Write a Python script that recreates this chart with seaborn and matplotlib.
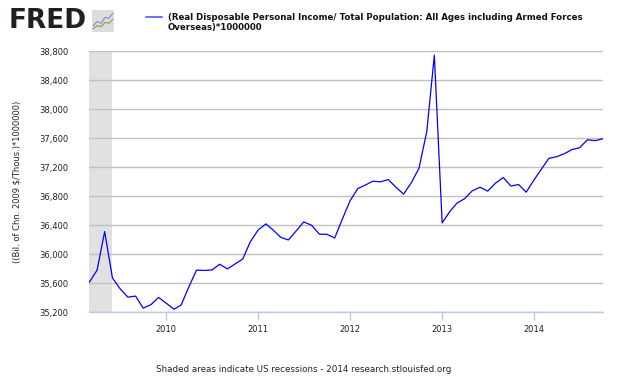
import matplotlib
matplotlib.use("Agg")
import matplotlib.pyplot as plt
import matplotlib.ticker as mticker
from matplotlib.lines import Line2D
import seaborn as sns
import pandas as pd

# ---- data ----
start_month = "2009-03-01"
values = [
    35614, 35781, 36312, 35673, 35526, 35409, 35423, 35257, 35305, 35405,
    35324, 35243, 35301, 35553, 35781, 35777, 35783, 35862, 35797, 35866,
    35935, 36174, 36335, 36418, 36335, 36232, 36197, 36321, 36445, 36400,
    36276, 36275, 36223, 36480, 36735, 36905, 36952, 37007, 36997, 37029,
    36924, 36828, 36988, 37185, 37690, 38742, 36432, 36590, 36705, 36767,
    36875, 36923, 36870, 36979, 37057, 36940, 36960, 36855, 37023, 37180,
    37321, 37344, 37384, 37443, 37466, 37576, 37565, 37590,
]
recession_start = "2009-03-01"
recession_end = "2009-06-01"
y_ticks = [35200, 35600, 36000, 36400, 36800, 37200, 37600, 38000, 38400, 38800]
year_ticks = ["2010", "2011", "2012", "2013", "2014"]
series_label = ("(Real Disposable Personal Income/ Total Population: All Ages including Armed Forces\n"
                "Overseas)*1000000")
y_label = "((Bil. of Chn. 2009 $/Thous.)*1000000)"
footer = "Shaded areas indicate US recessions - 2014 research.stlouisfed.org"

dates = pd.date_range(start_month, periods=len(values), freq="MS")
df = pd.DataFrame({"date": dates, "value": values})

sns.set_theme(style="white")
plt.rcParams["font.family"] = ["DejaVu Sans"]

fig = plt.figure(figsize=(6.3, 3.78), dpi=100)
ax = fig.add_axes([89.3 / 630, 1 - 312.3 / 378, (602.7 - 89.3) / 630, (312.3 - 51) / 378])

ax.axvspan(pd.Timestamp(recession_start), pd.Timestamp(recession_end),
           color="#e1e1e1", lw=0, zorder=0)
sns.lineplot(data=df, x="date", y="value", ax=ax, color="#0000ff", lw=0.9, zorder=3)

ax.set_xlim(dates[0], dates[-1])
ax.set_ylim(y_ticks[0], y_ticks[-1])
ax.set_yticks(y_ticks)
ax.yaxis.set_major_formatter(mticker.FuncFormatter(lambda v, p: f"{int(v):,}"))
ax.set_xticks([pd.Timestamp(f"{y}-01-01") for y in year_ticks])
ax.set_xticklabels(year_ticks)
ax.grid(axis="y", color="#c0c0c0", lw=1)
ax.grid(axis="x", visible=False)
ax.set_axisbelow(True)
for s in ["left", "right", "top"]:
    ax.spines[s].set_visible(False)
ax.spines["bottom"].set_color("#b8cce4")
ax.spines["bottom"].set_linewidth(1)
ax.tick_params(axis="y", length=0, pad=15, labelsize=6, labelcolor="#222222")
ax.tick_params(axis="x", length=5.8, width=1, color="#b8cce4", direction="out",
               pad=3.5, labelsize=6, labelcolor="#222222", bottom=True)
ax.set_xlabel("")
ax.set_ylabel("")
ax.set_facecolor("white")

fig.text(17.5 / 630, 1 - 182 / 378, y_label, rotation=90, ha="center", va="center",
         fontsize=6, color="#222222")
fig.text(304 / 630, 1 - 369 / 378, footer, ha="center", va="center",
         fontsize=6.3, color="#222222")

# legend
fig.add_artist(Line2D([146 / 630, 162 / 630], [1 - 17.3 / 378, 1 - 17.3 / 378],
                      color="#6f6fff", lw=1.5, transform=fig.transFigure))
fig.text(167.6 / 630, 1 - 22.5 / 378, series_label, ha="left", va="center",
         fontsize=6.25, fontweight="bold", color="#111111", linespacing=1.25)

# FRED logo
fig.text(9 / 630, 1 - 21 / 378, "FRED", ha="left", va="center", fontsize=19,
         fontweight="heavy", color="#231f20", family="DejaVu Sans")
icon = fig.add_axes([92 / 630, 1 - 32 / 378, 22 / 630, 22 / 378])
icon.set_facecolor("#dcdcdc")
for s in icon.spines.values():
    s.set_visible(False)
icon.set_xticks([]); icon.set_yticks([])
icon.plot([0, 1, 2, 3, 4, 5], [1, 2, 1.6, 3, 2.8, 4], color="#7a8fc0", lw=0.8)
icon.plot([0, 1, 2, 3, 4, 5], [0.3, 1, 0.8, 1.8, 1.6, 2.6], color="#7aa34a", lw=0.8)
icon.set_xlim(-0.3, 5.3); icon.set_ylim(-0.5, 4.8)

fig.savefig("out.png", dpi=100)
